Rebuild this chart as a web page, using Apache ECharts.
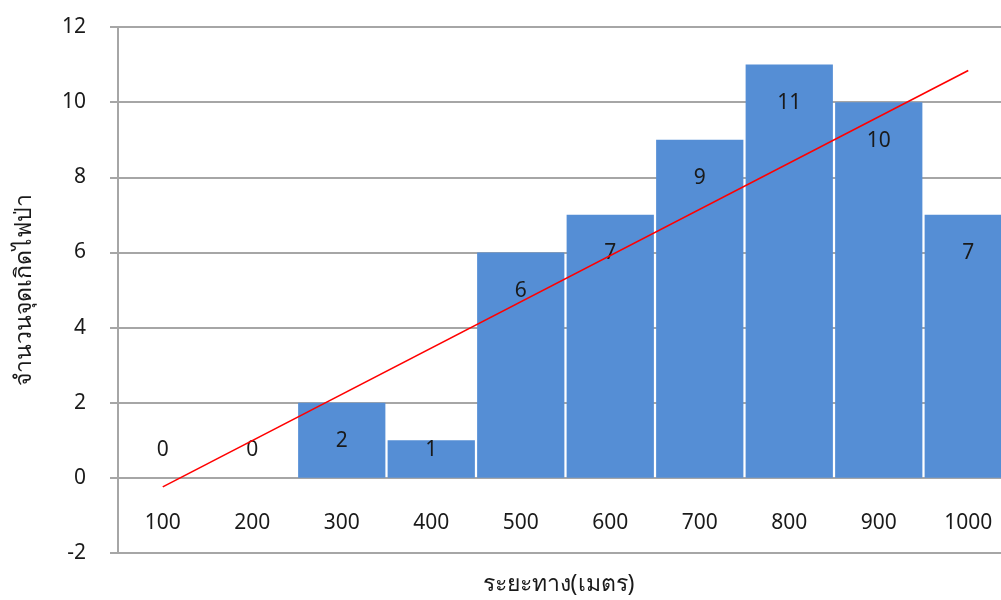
<!DOCTYPE html>
<html>
<head>
<meta charset="utf-8">
<script src="https://cdn.jsdelivr.net/npm/echarts@6/dist/echarts.min.js"></script>
<style>
  html, body { margin: 0; padding: 0; background: #fff; }
  #chart { width: 1001px; height: 600px; }
</style>
</head>
<body>
<div id="chart"></div>
<script>
// Fire-spot counts by distance class
const categories = ['100', '200', '300', '400', '500', '600', '700', '800', '900', '1000'];
const counts = [0, 0, 2, 1, 6, 7, 9, 11, 10, 7];
// Linear trend line end points (first and last class)
const trendEnds = [-0.24, 10.84];
const yTicks = { min: -2, max: 12, step: 2 };

const yTitle = 'จำนวนจุดเกิดไฟป่า';
const xTitle = 'ระยะทาง(เมตร)';

const FONT = '"Noto Sans", "DejaVu Sans", sans-serif';
const TEXT = '#1a1a1a';
const GRID = '#a6a6a6';
const FS = 21;
const TITLE_FS = 23;

const chart = echarts.init(document.getElementById('chart'));

// pixels per value unit on the y axis (plot height 526 px over 14 units)
const pxPerUnit = 526 / (yTicks.max - yTicks.min);

const barData = counts.map(v => {
  if (v >= 2) {
    return { value: v, label: { position: 'insideTop', distance: 28 } };
  }
  // short bars: keep the label just above the zero line
  const d = (0.77 - v) * pxPerUnit - 12;
  return { value: v, label: { position: 'top', distance: d } };
});

chart.setOption({
  animation: false,
  grid: { left: 118, right: -12, top: 27, bottom: 47, containLabel: false, outerBoundsMode: 'none' },
  xAxis: {
    type: 'category',
    data: categories,
    name: xTitle,
    nameLocation: 'middle',
    nameGap: 20,
    nameTextStyle: { fontFamily: FONT, fontSize: TITLE_FS, color: TEXT, verticalAlign: 'top', padding: [0, 14, 0, 0] },
    axisLine: { onZero: false, lineStyle: { color: GRID, width: 2 } },
    axisTick: { show: false },
    // category labels sit between the zero line and the bottom of the plot
    axisLabel: { margin: -40, fontFamily: FONT, fontSize: FS, color: TEXT },
    splitLine: { show: false }
  },
  yAxis: {
    type: 'value',
    min: yTicks.min,
    max: yTicks.max,
    interval: yTicks.step,
    name: yTitle,
    nameLocation: 'middle',
    nameRotate: 90,
    nameGap: 82,
    nameTextStyle: { fontFamily: FONT, fontSize: TITLE_FS, color: TEXT },
    axisLine: { show: true, onZero: false, lineStyle: { color: GRID, width: 2 } },
    axisTick: { show: true, length: 8, lineStyle: { color: GRID, width: 2 } },
    axisLabel: { margin: 32, fontFamily: FONT, fontSize: FS, color: TEXT },
    splitLine: { show: true, lineStyle: { color: GRID, width: 2 } }
  },
  series: [
    {
      type: 'bar',
      data: barData,
      barCategoryGap: '2.5%',
      itemStyle: { color: '#558ed5' },
      label: {
        show: true,
        fontFamily: FONT,
        fontSize: FS,
        color: TEXT
      },
      z: 2
    },
    {
      type: 'line',
      data: [[categories[0], trendEnds[0]], [categories[categories.length - 1], trendEnds[1]]],
      symbol: 'none',
      lineStyle: { color: '#ff0000', width: 1.6 },
      z: 3
    }
  ]
});
</script>
</body>
</html>
